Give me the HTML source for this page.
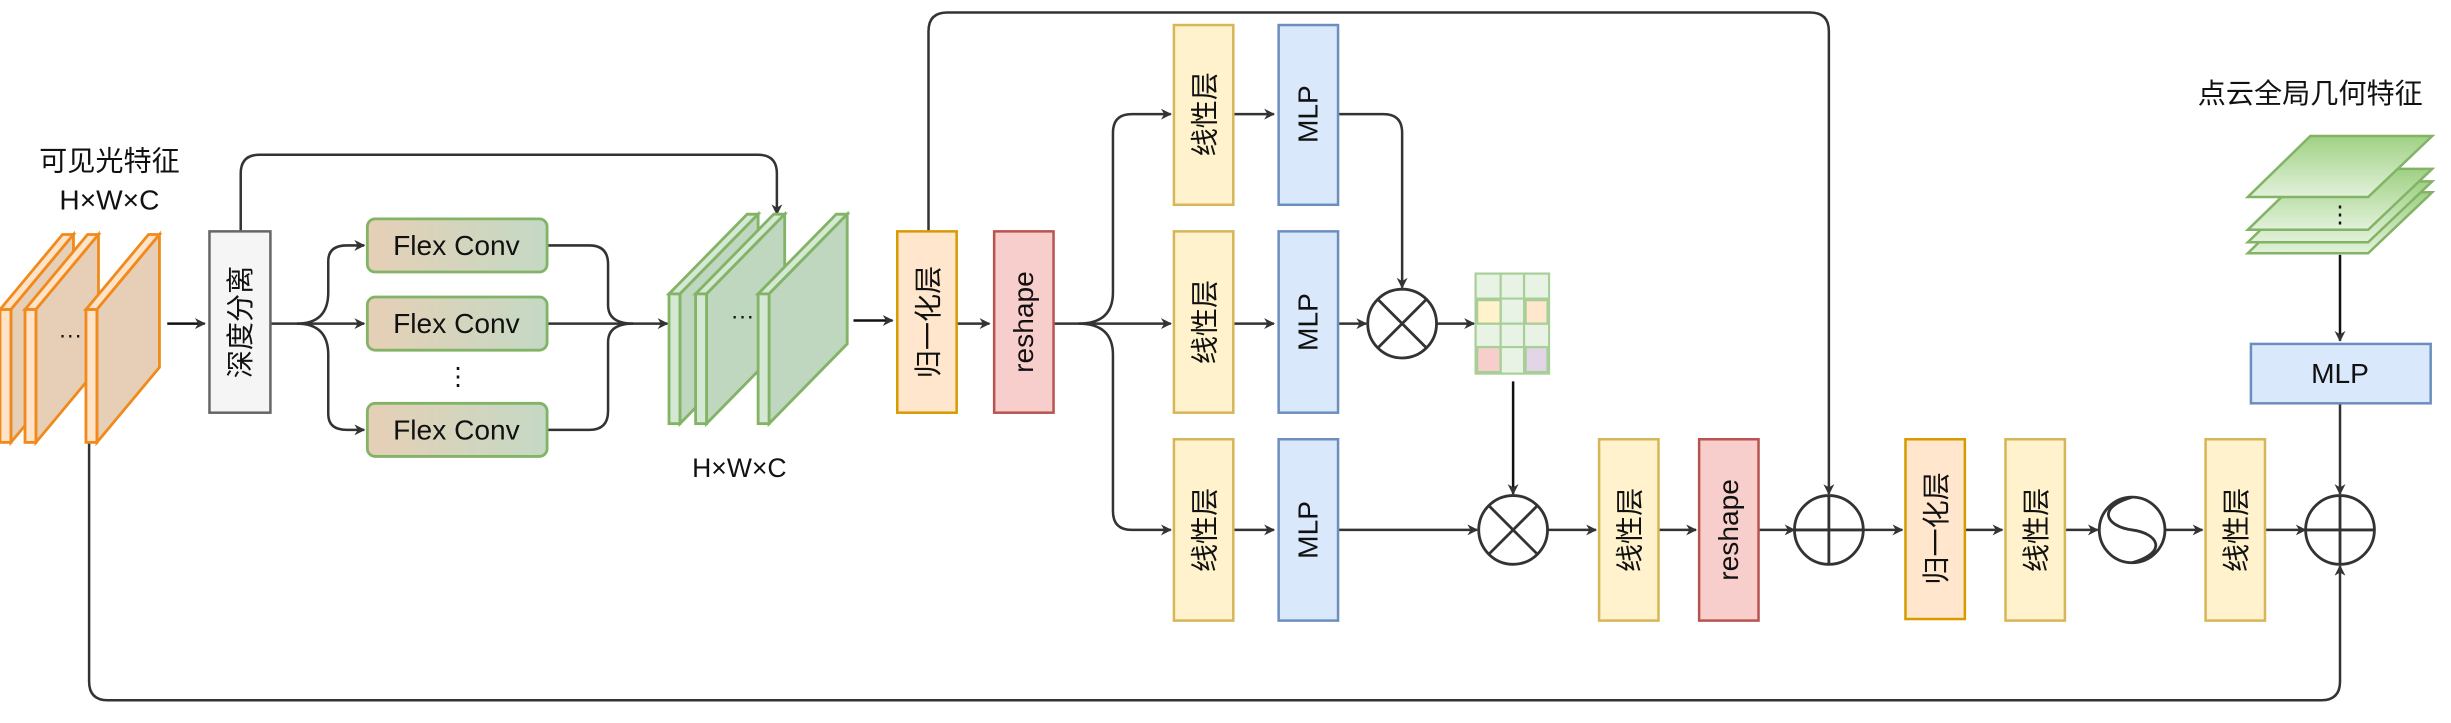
<!DOCTYPE html>
<html><head><meta charset="utf-8"><style>
html,body{margin:0;padding:0;background:#fff;}
svg{display:block;}
text{font-family:"Liberation Sans","Noto Sans CJK SC",sans-serif;fill:#111;}
</style></head><body>
<svg width="2451" height="723" viewBox="0 0 1568 462.5" xmlns="http://www.w3.org/2000/svg">
<defs>
<marker id="a" viewBox="0 0 10 10" refX="9" refY="5" markerWidth="7" markerHeight="7" orient="auto" markerUnits="userSpaceOnUse"><path d="M0,0 L10,5 L0,10 L3,5 z" fill="#333"/></marker>
<linearGradient id="fc" x1="0" x2="1" y1="0" y2="0"><stop offset="0" stop-color="#e6d0b6"/><stop offset="1" stop-color="#c4d9c4"/></linearGradient>
<linearGradient id="gp" x1="0" x2="0" y1="0" y2="1"><stop offset="0" stop-color="#9fd184"/><stop offset="1" stop-color="#e2f1da"/></linearGradient>
</defs>
<g stroke="#333" stroke-width="1.6" fill="none">
<line x1="107" y1="207" x2="131" y2="207" marker-end="url(#a)" stroke="#111"/>
<path d="M154,148 V111 Q154,99 166,99 H485 Q497,99 497,111 V137" marker-end="url(#a)"/>
<path d="M173,207 H233" marker-end="url(#a)"/>
<path d="M190,207 Q210,207 210,187 V167 Q210,157 222,157 H233" marker-end="url(#a)"/>
<path d="M190,207 Q210,207 210,227 V265 Q210,275 222,275 H233" marker-end="url(#a)"/>
<path d="M350,157 H377 Q389,157 389,169 V195 Q389,207 405,207"/>
<path d="M350,275 H377 Q389,275 389,263 V219 Q389,207 405,207"/>
<path d="M350,207 H427" marker-end="url(#a)"/>
<line x1="546" y1="205" x2="571" y2="205" marker-end="url(#a)" stroke="#111"/>
<line x1="612" y1="207" x2="633" y2="207" marker-end="url(#a)"/>
<path d="M594,148 V20 Q594,8 606,8 H1158 Q1170,8 1170,20 V316" marker-end="url(#a)"/>
<path d="M674,207 H749" marker-end="url(#a)"/>
<path d="M690,207 Q712,207 712,187 V85 Q712,73 724,73 H749" marker-end="url(#a)"/>
<path d="M690,207 Q712,207 712,227 V327 Q712,339 724,339 H749" marker-end="url(#a)"/>
<line x1="789" y1="73" x2="815" y2="73" marker-end="url(#a)"/>
<line x1="789" y1="207" x2="815" y2="207" marker-end="url(#a)"/>
<line x1="789" y1="339" x2="815" y2="339" marker-end="url(#a)"/>
<path d="M856,73 H885 Q897,73 897,85 V184" marker-end="url(#a)"/>
<line x1="856" y1="207" x2="874" y2="207" marker-end="url(#a)"/>
<line x1="919" y1="207" x2="943" y2="207" marker-end="url(#a)"/>
<line x1="968" y1="244" x2="968" y2="316" marker-end="url(#a)" stroke="#111"/>
<path d="M856,339 H945" marker-end="url(#a)"/>
<line x1="990" y1="339" x2="1021" y2="339" marker-end="url(#a)"/>
<line x1="1061" y1="339" x2="1085" y2="339" marker-end="url(#a)"/>
<line x1="1125" y1="339" x2="1148" y2="339" marker-end="url(#a)"/>
<line x1="1192" y1="339" x2="1217" y2="339" marker-end="url(#a)"/>
<line x1="1257" y1="339" x2="1281" y2="339" marker-end="url(#a)"/>
<line x1="1321" y1="339" x2="1342" y2="339" marker-end="url(#a)"/>
<line x1="1385" y1="339" x2="1409" y2="339" marker-end="url(#a)"/>
<line x1="1449" y1="339" x2="1475" y2="339" marker-end="url(#a)"/>
<line x1="1497" y1="163" x2="1497" y2="218" marker-end="url(#a)" stroke="#111"/>
<line x1="1497" y1="258" x2="1497" y2="316" marker-end="url(#a)"/>
<path d="M57,283 V436 Q57,448 69,448 H1485 Q1497,448 1497,436 V362" marker-end="url(#a)"/>
</g>
<g stroke="#f08a1c" stroke-width="1.8" stroke-linejoin="miter">
<g id="os"><polygon points="0,198 7,198 47,150 40,150" fill="#ffe3c8"/><polygon points="7,198 47,150 47,235 7,283" fill="#e6cfb6"/><rect x="0" y="198" width="7" height="85" fill="#ffe3c8"/></g>
<use href="#os" x="16"/><use href="#os" x="55"/>
</g>
<text x="45" y="219" font-size="15" text-anchor="middle">···</text>
<text x="70" y="109" font-size="18" text-anchor="middle">可见光特征</text>
<text x="70" y="134" font-size="18" text-anchor="middle">H×W×C</text>
<rect x="134" y="148" width="39" height="116" fill="#f5f5f5" stroke="#666" stroke-width="1.6"/>
<text transform="translate(160,206) rotate(-90)" font-size="18" text-anchor="middle" fill="#333">深度分离</text>
<g stroke="#82b366" stroke-width="1.8" fill="url(#fc)">
<rect x="235" y="140" width="115" height="34" rx="5"/>
<rect x="235" y="190" width="115" height="34" rx="5"/>
<rect x="235" y="258" width="115" height="34" rx="5"/>
</g>
<g font-size="18" text-anchor="middle"><text x="292" y="163">Flex Conv</text><text x="292" y="213">Flex Conv</text><text x="292" y="281">Flex Conv</text></g>
<text x="293" y="246" font-size="16" text-anchor="middle">⋮</text>
<g stroke="#82b366" stroke-width="1.8">
<g id="gs"><polygon points="428,188 435,188 485,137 478,137" fill="#d5e8d4"/><polygon points="435,188 485,137 485,220 435,271" fill="#bfd6bf"/><rect x="428" y="188" width="7" height="83" fill="#d5e8d4"/></g>
<use href="#gs" x="17"/><use href="#gs" x="57"/>
</g>
<text x="475" y="207" font-size="15" text-anchor="middle">···</text>
<text x="473" y="305" font-size="17" text-anchor="middle">H×W×C</text>
<g stroke-width="1.6">
<rect x="574" y="148" width="38" height="116" fill="#ffe6cc" stroke="#d79b00"/>
<rect x="636" y="148" width="38" height="116" fill="#f8cecc" stroke="#b85450"/>
<rect x="751" y="16" width="38" height="115" fill="#fff2cc" stroke="#d6b656"/>
<rect x="751" y="148" width="38" height="116" fill="#fff2cc" stroke="#d6b656"/>
<rect x="751" y="281" width="38" height="116" fill="#fff2cc" stroke="#d6b656"/>
<rect x="818" y="16" width="38" height="115" fill="#dae8fc" stroke="#6c8ebf"/>
<rect x="818" y="148" width="38" height="116" fill="#dae8fc" stroke="#6c8ebf"/>
<rect x="818" y="281" width="38" height="116" fill="#dae8fc" stroke="#6c8ebf"/>
<rect x="1023" y="281" width="38" height="116" fill="#fff2cc" stroke="#d6b656"/>
<rect x="1087" y="281" width="38" height="116" fill="#f8cecc" stroke="#b85450"/>
<rect x="1219" y="281" width="38" height="115" fill="#ffe6cc" stroke="#d79b00"/>
<rect x="1283" y="281" width="38" height="116" fill="#fff2cc" stroke="#d6b656"/>
<rect x="1411" y="281" width="38" height="116" fill="#fff2cc" stroke="#d6b656"/>
<rect x="1440" y="220" width="115" height="38" fill="#dae8fc" stroke="#6c8ebf"/>
</g>
<g font-size="18" text-anchor="middle">
<text transform="translate(600,206) rotate(-90)">归一化层</text>
<text transform="translate(661,206) rotate(-90)">reshape</text>
<text transform="translate(777,73) rotate(-90)">线性层</text>
<text transform="translate(777,206) rotate(-90)">线性层</text>
<text transform="translate(777,339) rotate(-90)">线性层</text>
<text transform="translate(843,73) rotate(-90)">MLP</text>
<text transform="translate(843,206) rotate(-90)">MLP</text>
<text transform="translate(843,339) rotate(-90)">MLP</text>
<text transform="translate(1049,339) rotate(-90)">线性层</text>
<text transform="translate(1112,339) rotate(-90)">reshape</text>
<text transform="translate(1245,338) rotate(-90)">归一化层</text>
<text transform="translate(1309,339) rotate(-90)">线性层</text>
<text transform="translate(1437,339) rotate(-90)">线性层</text>
<text x="1497" y="245">MLP</text>
<text x="1478" y="66">点云全局几何特征</text>
</g>
<g stroke="#333" stroke-width="1.8" fill="#fff">
<circle cx="897" cy="207" r="22"/><path d="M881,191 L913,223 M913,191 L881,223"/>
<circle cx="968" cy="339" r="22"/><path d="M952,323 L984,355 M984,323 L952,355"/>
<circle cx="1170" cy="339" r="22"/><path d="M1148,339 H1192 M1170,317 V361"/>
<circle cx="1364" cy="339" r="21"/><path d="M1364,318 C1340,325 1348,337 1364,339 C1380,341 1388,353 1364,360" fill="none"/>
<circle cx="1497" cy="339" r="22"/><path d="M1475,339 H1519 M1497,317 V361"/>
</g>
<g stroke="#a8cf98" stroke-width="1.4">
<rect x="944" y="175" width="47" height="64" fill="#e8f3e6"/>
<rect x="945" y="192" width="15" height="15" fill="#fff2cc"/>
<rect x="976" y="192" width="14" height="15" fill="#ffe6cc"/>
<rect x="945" y="222" width="15" height="16" fill="#f8cecc"/>
<rect x="976" y="222" width="14" height="16" fill="#e1d5e7"/>
<path d="M960,175 V239 M975,175 V239 M944,191 H991 M944,207 H991 M944,222 H991" fill="none"/>
</g>
<g stroke="#82b366" stroke-width="1.6" fill="url(#gp)">
<polygon points="1438,162 1515,162 1556,123 1478,123"/>
<polygon points="1438,155 1515,155 1556,116 1478,116"/>
<polygon points="1438,147 1515,147 1556,108 1478,108"/>
<polygon points="1438,126 1515,126 1556,87 1478,87"/>
</g>
<text x="1497" y="142" font-size="15" text-anchor="middle">⋮</text>
</svg>
</body></html>
